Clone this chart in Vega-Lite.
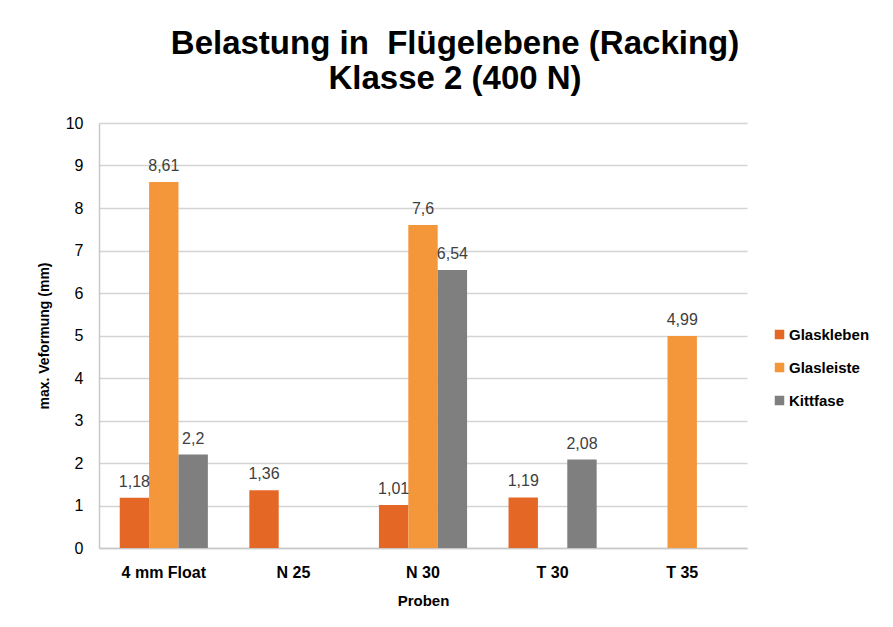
{
  "$schema": "https://vega.github.io/schema/vega-lite/v6.json",
  "width": 648,
  "height": 425,
  "autosize": {"type": "none"},
  "padding": {"left": 99, "top": 123, "right": 146, "bottom": 79},
  "background": "white",
  "config": {
    "font": "Liberation Sans",
    "locale": {"number": {"decimal": ",", "thousands": ".", "grouping": [3], "currency": ["", " €"]}},
    "view": {"stroke": null},
    "axis": {"labelFont": "Liberation Sans", "titleFont": "Liberation Sans"}
  },
  "title": {
    "text": ["Belastung in \u00a0Flügelebene (Racking)", "Klasse 2 (400 N)"],
    "fontSize": 33,
    "fontWeight": "bold",
    "color": "#000000",
    "anchor": "middle",
    "dx": 32,
    "offset": 19,
    "lineHeight": 35
  },
  "data": {
    "values": [
      {"Probe": "4 mm Float", "Serie": "Glaskleben", "Wert": 1.18},
      {"Probe": "4 mm Float", "Serie": "Glasleiste", "Wert": 8.61},
      {"Probe": "4 mm Float", "Serie": "Kittfase", "Wert": 2.2},
      {"Probe": "N 25", "Serie": "Glaskleben", "Wert": 1.36},
      {"Probe": "N 30", "Serie": "Glaskleben", "Wert": 1.01},
      {"Probe": "N 30", "Serie": "Glasleiste", "Wert": 7.6},
      {"Probe": "N 30", "Serie": "Kittfase", "Wert": 6.54},
      {"Probe": "T 30", "Serie": "Glaskleben", "Wert": 1.19},
      {"Probe": "T 30", "Serie": "Kittfase", "Wert": 2.08},
      {"Probe": "T 35", "Serie": "Glasleiste", "Wert": 4.99}
    ]
  },
  "encoding": {
    "x": {
      "field": "Probe",
      "type": "nominal",
      "sort": ["4 mm Float", "N 25", "N 30", "T 30", "T 35"],
      "scale": {"paddingInner": 0.32, "paddingOuter": 0.16},
      "axis": {
        "title": "Proben",
        "labelAngle": 0,
        "labelFontSize": 16,
        "labelFontWeight": "bold",
        "labelColor": "#000000",
        "labelPadding": 16,
        "titleFontSize": 15,
        "titleFontWeight": "bold",
        "titleColor": "#000000",
        "titlePadding": 13,
        "ticks": false,
        "domainColor": "#C8C8C8",
        "domainWidth": 1.5
      }
    },
    "xOffset": {"field": "Serie", "type": "nominal", "sort": ["Glaskleben", "Glasleiste", "Kittfase"]},
    "y": {
      "field": "Wert",
      "type": "quantitative",
      "scale": {"domain": [0, 10]},
      "axis": {
        "title": "max. Veformung (mm)",
        "values": [0, 1, 2, 3, 4, 5, 6, 7, 8, 9, 10],
        "format": "d",
        "labelFontSize": 16,
        "labelColor": "#000000",
        "labelPadding": 16,
        "titleFontSize": 14,
        "titleFontWeight": "bold",
        "titleColor": "#000000",
        "titlePadding": 14,
        "ticks": false,
        "domain": true,
        "domainColor": "#C8C8C8",
        "domainWidth": 1.5,
        "gridColor": "#D4D4D4",
        "gridWidth": 1.5
      }
    }
  },
  "layer": [
    {
      "mark": {"type": "bar"},
      "encoding": {
        "color": {
          "field": "Serie",
          "type": "nominal",
          "sort": ["Glaskleben", "Glasleiste", "Kittfase"],
          "scale": {"domain": ["Glaskleben", "Glasleiste", "Kittfase"], "range": ["#E46726", "#F4963A", "#7F7F7F"]},
          "legend": {
            "title": null,
            "orient": "none",
            "legendX": 673,
            "legendY": 204,
            "symbolType": "square",
            "symbolSize": 90,
            "symbolStrokeWidth": 0,
            "labelFontSize": 15,
            "labelFontWeight": "bold",
            "labelColor": "#000000",
            "labelOffset": 2,
            "rowPadding": 17
          }
        }
      }
    },
    {
      "mark": {"type": "text", "baseline": "bottom", "dy": -8, "fontSize": 16, "color": "#404040"},
      "encoding": {
        "text": {"field": "Wert", "type": "quantitative", "format": "~g"}
      }
    }
  ]
}
